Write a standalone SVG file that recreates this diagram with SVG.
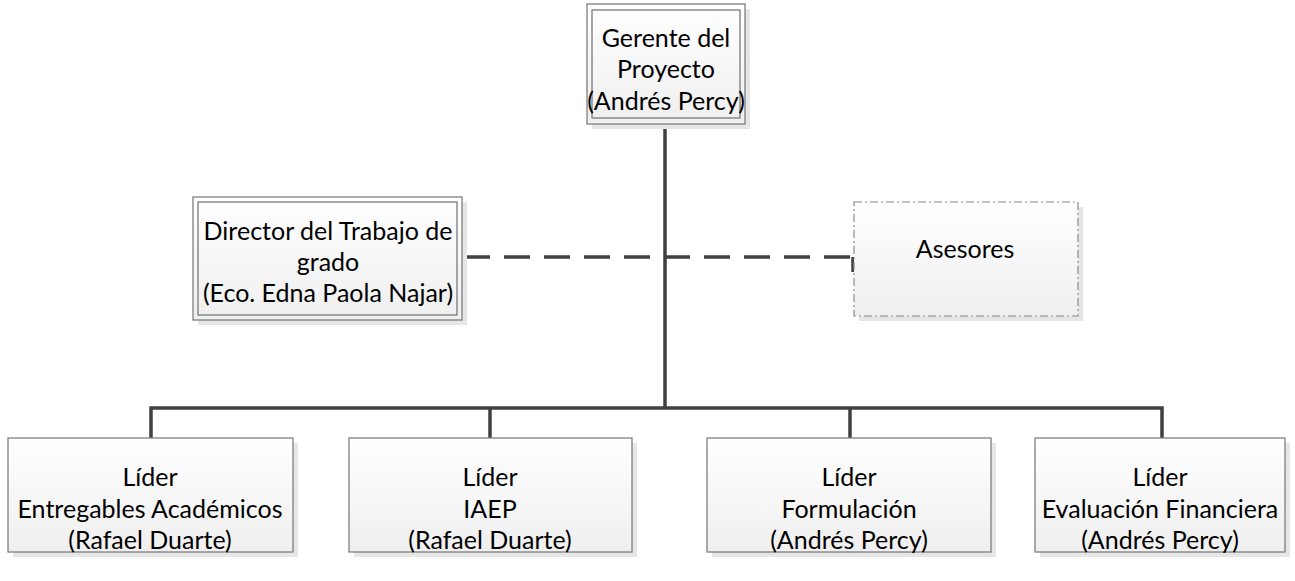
<svg xmlns="http://www.w3.org/2000/svg" width="1295" height="581" viewBox="0 0 1295 581">
<defs>
<linearGradient id="g" x1="0" y1="0" x2="0" y2="1">
<stop offset="0" stop-color="#ffffff"/>
<stop offset="1" stop-color="#efefef"/>
</linearGradient>
<style>
.box{fill:url(#g);stroke:#7f7f7f;stroke-width:1.3}
.inner{fill:none;stroke:#6f6f6f;stroke-width:1.2}
.shadow{fill:#e6e6e6}
.dash{fill:url(#g);stroke:#8a8a8a;stroke-width:1.2;stroke-dasharray:8 3 2 3}
.t{font-family:Lato,"Liberation Sans",sans-serif;font-size:25px;fill:#000;text-anchor:middle}
.c{fill:none;stroke:#404040;stroke-width:3.5}
.cd{fill:none;stroke:#404040;stroke-width:3.5;stroke-dasharray:26 14}
</style>
</defs>
<g id="connectors">
<path class="c" d="M665 124V408"/>
<path class="c" d="M151 438V408H1162V438"/>
<path class="c" d="M490 408V438M850 408V438"/>
<path class="cd" d="M464 257H853"/>
<path class="c" d="M853 257V272"/>
</g>
<g id="gerente">
<rect class="shadow" x="592" y="9" width="158" height="120"/>
<rect class="box" x="587" y="4" width="158" height="120"/>
<rect class="inner" x="592" y="10" width="148" height="108"/>
<text class="t" x="666" y="47">Gerente del</text>
<text class="t" x="666" y="78">Proyecto</text>
<text class="t" x="666" y="110">(Andrés Percy)</text>
</g>
<g id="director">
<rect class="shadow" x="198" y="202" width="269" height="123"/>
<rect class="box" x="193" y="197" width="269" height="123"/>
<rect class="inner" x="198" y="202" width="259" height="113"/>
<text class="t" x="328" y="240">Director del Trabajo de</text>
<text class="t" x="328" y="271">grado</text>
<text class="t" x="328" y="302">(Eco. Edna Paola Najar)</text>
</g>
<g id="asesores">
<rect class="shadow" x="859" y="207" width="224" height="114"/>
<rect class="dash" x="854" y="202" width="224" height="114"/>
<text class="t" x="965" y="258">Asesores</text>
</g>
<g id="lider1">
<rect class="shadow" x="13" y="443" width="285" height="114"/>
<rect class="box" x="8" y="438" width="285" height="114"/>
<text class="t" x="150" y="486">Líder</text>
<text class="t" x="150" y="518">Entregables Académicos</text>
<text class="t" x="150" y="549">(Rafael Duarte)</text>
</g>
<g id="lider2">
<rect class="shadow" x="354" y="443" width="283" height="114"/>
<rect class="box" x="349" y="438" width="283" height="114"/>
<text class="t" x="490" y="486">Líder</text>
<text class="t" x="490" y="518">IAEP</text>
<text class="t" x="490" y="549">(Rafael Duarte)</text>
</g>
<g id="lider3">
<rect class="shadow" x="712" y="443" width="284" height="114"/>
<rect class="box" x="707" y="438" width="284" height="114"/>
<text class="t" x="849" y="486">Líder</text>
<text class="t" x="849" y="518">Formulación</text>
<text class="t" x="849" y="549">(Andrés Percy)</text>
</g>
<g id="lider4">
<rect class="shadow" x="1040" y="443" width="250" height="114"/>
<rect class="box" x="1035" y="438" width="250" height="114"/>
<text class="t" x="1160" y="486">Líder</text>
<text class="t" x="1160" y="518">Evaluación Financiera</text>
<text class="t" x="1160" y="549">(Andrés Percy)</text>
</g>
</svg>
